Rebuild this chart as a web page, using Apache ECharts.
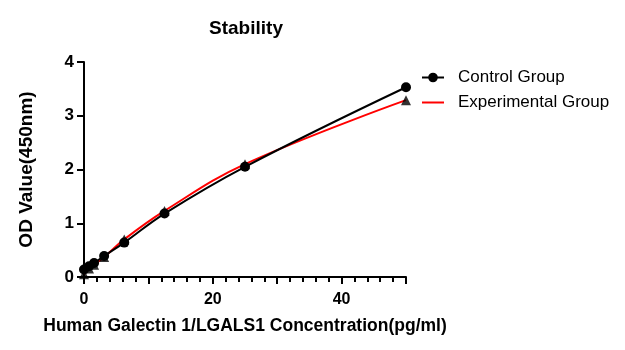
<!DOCTYPE html>
<html>
<head>
<meta charset="utf-8">
<script src="https://cdn.jsdelivr.net/npm/echarts@6/dist/echarts.min.js"></script>
<style>html,body{margin:0;padding:0;background:#fff}#c{width:625px;height:350px}</style>
</head>
<body>
<div id="c"></div>
<script>
var concentrations = [0, 0.78, 1.5625, 3.125, 6.25, 12.5, 25, 50];
var controlOD = [0.14, 0.2, 0.26, 0.39, 0.64, 1.18, 2.05, 3.53];
var experimentalOD = [0.05, 0.16, 0.23, 0.37, 0.70, 1.23, 2.1, 3.29];
var xTicks = [0, 20, 40];
var yTicks = [0, 1, 2, 3, 4];

function pairs(xs, ys) { return xs.map(function (x, i) { return [x, ys[i]]; }); }

var chart = echarts.init(document.getElementById('c'));
var font = 'Liberation Sans, Arial, sans-serif';
chart.setOption({
  animation: false,
  title: {
    text: 'Stability', left: 241, top: 14, textAlign: 'center',
    textStyle: { fontFamily: font, fontSize: 19, fontWeight: 'bold', color: '#000' }
  },
  legend: {
    orient: 'vertical', left: 416, top: 64, itemGap: 8, itemWidth: 22, itemHeight: 12,
    textStyle: { fontFamily: font, fontSize: 17, color: '#000', padding: [0, 0, 0, 9] },
    data: [
      { name: 'Control Group' },
      { name: 'Experimental Group', icon: 'path://M0,0 L22,0 L22,2 L0,2 Z', itemStyle: { color: '#ff0000' } }
    ]
  },
  grid: { left: 84, right: 219, top: 62, bottom: 73 },
  xAxis: {
    type: 'value', min: 0, max: 50, interval: 10, position: 'bottom',
    name: 'Human Galectin 1/LGALS1 Concentration(pg/ml)', nameLocation: 'middle', nameGap: 40,
    nameTextStyle: { fontFamily: font, fontSize: 17.5, fontWeight: 'bold', color: '#000' },
    axisLine: { show: true, onZero: false, lineStyle: { color: '#000', width: 2 } },
    axisTick: { show: true, inside: false, length: 7, lineStyle: { color: '#000', width: 2 } },
    minorTick: { show: true, splitNumber: 5, length: 5, lineStyle: { color: '#000', width: 2 } },
    axisLabel: { show: true, fontFamily: font, fontSize: 16, fontWeight: 'bold', color: '#000', margin: 15,
      formatter: function (v) { return xTicks.indexOf(v) >= 0 ? String(v) : ''; } },
    splitLine: { show: false }
  },
  yAxis: {
    type: 'value', min: 0, max: 4, interval: 1,
    name: 'OD Value(450nm)', nameLocation: 'middle', nameGap: 48,
    nameTextStyle: { fontFamily: font, fontSize: 19, fontWeight: 'bold', color: '#000' },
    axisLine: { show: true, onZero: false, lineStyle: { color: '#000', width: 2 } },
    axisTick: { show: true, length: 7, lineStyle: { color: '#000', width: 2 } },
    axisLabel: { fontFamily: font, fontSize: 17, fontWeight: 'bold', color: '#000', margin: 10,
      formatter: function (v) { return yTicks.indexOf(v) >= 0 ? String(v) : ''; } },
    splitLine: { show: false }
  },
  series: [
    {
      name: 'Experimental Group', type: 'line', smooth: 0.4,
      data: pairs(concentrations, experimentalOD),
      showSymbol: false, symbol: 'none',
      lineStyle: { color: '#ff0000', width: 2 }, itemStyle: { color: '#ff0000' }, z: 3
    },
    {
      name: 'Experimental points', type: 'scatter',
      data: pairs(concentrations, experimentalOD),
      symbol: 'triangle', symbolSize: 10, itemStyle: { color: '#000' }, z: 4
    },
    {
      name: 'Control Group', type: 'line', smooth: 0.4,
      data: pairs(concentrations, controlOD),
      symbol: 'circle', symbolSize: 10, showAllSymbol: true,
      lineStyle: { color: '#000', width: 2 }, itemStyle: { color: '#000' }, z: 5
    }
  ]
});
</script>
</body>
</html>
